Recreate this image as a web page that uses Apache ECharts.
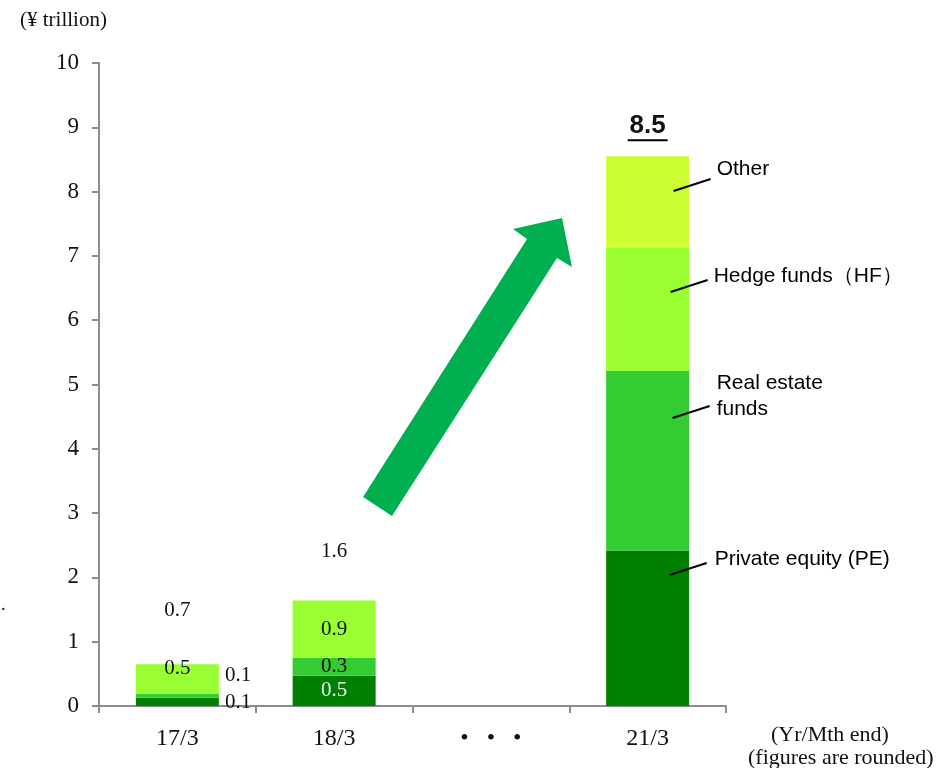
<!DOCTYPE html>
<html>
<head>
<meta charset="utf-8">
<script src="https://cdn.jsdelivr.net/npm/echarts@6/dist/echarts.min.js"></script>
<style>
html, body { margin: 0; padding: 0; background: #fff; }
#chart { width: 948px; height: 768px; }
</style>
</head>
<body>
<div id="chart"></div>
<script>
// categories and stacked segment values (¥ trillion)
var categories = ['17/3', '18/3', '•   •   •', '21/3'];
var peValues = [0.13, 0.47, null, 2.42];
var realEstateValues = [0.06, 0.28, null, 2.79];
var hedgeValues = [0.46, 0.89, null, 1.92];
var otherValues = [null, null, null, 1.42];

// printed figures
var peLabels = ['0.1', '0.5', '', ''];
var realEstateLabels = ['0.1', '0.3', '', ''];
var hedgeLabels = ['0.5', '0.9', '', ''];
var totalLabels = ['0.7', '1.6', '', '8.5'];

var yTicks = [0, 1, 2, 3, 4, 5, 6, 7, 8, 9, 10];

var SERIF = '"Liberation Serif", "DejaVu Serif", serif';
var SANS = '"Liberation Sans", Arial, sans-serif';

var colors = {
	pe: '#008000',
	realEstate: '#33cc33',
	hedge: '#99ff33',
	other: '#ccff33',
	arrow: '#00b050'
};

function segmentData(values, labels, labelOpts)
{
	return values.map(function(v, i)
	{
		var item = { value: v };
		if(labels[i])
		{
			item.label = Object.assign({
				show: true,
				formatter: labels[i],
				fontFamily: SERIF,
				fontSize: 21,
				color: '#111'
			}, labelOpts[i] || {});
		}
		return item;
	});
}

var peData = segmentData(peValues, peLabels, [
	{ position: 'right', distance: 6, offset: [0, 1] },
	{ position: 'inside', color: '#f0f0f0' }
]);
var realEstateData = segmentData(realEstateValues, realEstateLabels, [
	{ position: 'right', distance: 6, offset: [0, -20] },
	{ position: 'inside' }
]);
var hedgeData = segmentData(hedgeValues, hedgeLabels, [
	{ position: 'inside', offset: [0, -11] },
	{ position: 'inside' }
]);
var totalData = totalLabels.map(function(t, i)
{
	if(!t)
		return { value: null };
	var item = {
		value: 0,
		label: {
			show: true,
			position: 'top',
			formatter: t,
			fontFamily: SERIF,
			fontSize: 21,
			color: '#111'
		}
	};
	if(i == 0) item.label.distance = 43;
	if(i == 1) item.label.distance = 39;
	if(i == 3)
	{
		item.label.distance = 17;
		item.label.fontFamily = SANS;
		item.label.fontWeight = 'bold';
		item.label.fontSize = 26;
	}
	return item;
});

var chart = echarts.init(document.getElementById('chart'), null, { renderer: 'canvas' });

var barWidth = 83;

var option = {
	animation: false,
	backgroundColor: '#fff',
	grid: { left: 99, right: 222, top: 63, bottom: 62, containLabel: false },
	xAxis: {
		type: 'category',
		data: categories,
		boundaryGap: true,
		axisLine: { lineStyle: { color: '#8c8c8c', width: 2 } },
		axisTick: { show: true, interval: 0, length: 7, lineStyle: { color: '#8c8c8c', width: 2 } },
		axisLabel: { interval: 0, margin: 21, fontFamily: SERIF, fontSize: 24, color: '#111' }
	},
	yAxis: {
		type: 'value',
		min: yTicks[0],
		max: yTicks[yTicks.length - 1],
		interval: 1,
		splitLine: { show: false },
		axisLine: { show: true, lineStyle: { color: '#8c8c8c', width: 2 } },
		axisTick: { show: true, length: 7, lineStyle: { color: '#8c8c8c', width: 2 } },
		axisLabel: { margin: 20, fontFamily: SERIF, fontSize: 23, color: '#111' }
	},
	series: [
		{ name: 'Private equity (PE)', type: 'bar', stack: 'all', barWidth: barWidth, itemStyle: { color: colors.pe }, data: peData },
		{ name: 'Real estate funds', type: 'bar', stack: 'all', barWidth: barWidth, itemStyle: { color: colors.realEstate }, data: realEstateData },
		{ name: 'Hedge funds (HF)', type: 'bar', stack: 'all', barWidth: barWidth, itemStyle: { color: colors.hedge }, data: hedgeData },
		{ name: 'Other', type: 'bar', stack: 'all', barWidth: barWidth, itemStyle: { color: colors.other }, data: otherValues },
		{ name: 'Total', type: 'bar', stack: 'all', barWidth: barWidth, itemStyle: { color: 'rgba(0,0,0,0)' }, data: totalData, silent: true }
	]
};

chart.setOption(option);

// annotations placed relative to the 21/3 bar
var lastIdx = 3;
var total21 = peValues[lastIdx] + realEstateValues[lastIdx] + hedgeValues[lastIdx] + otherValues[lastIdx];
var topPt = chart.convertToPixel({ xAxisIndex: 0, yAxisIndex: 0 }, [lastIdx, total21]);
var cx = topPt[0];

function note(text, lx, ly, tx, ty)
{
	return [
		{
			type: 'line', z: 100,
			shape: { x1: lx, y1: ly, x2: lx + 37, y2: ly - 12 },
			style: { stroke: '#000', lineWidth: 2 }
		},
		{
			type: 'text', z: 100,
			left: tx, top: ty,
			style: { text: text, font: '21px ' + SANS, fill: '#000', lineHeight: 26 }
		}
	];
}

var graphics = [];
graphics.push({
	type: 'text', left: 20, top: 10,
	style: { text: '(¥ trillion)', font: '21px ' + SERIF, fill: '#111' }
});
graphics.push({
	type: 'text', left: 771, top: 724,
	style: { text: '(Yr/Mth end)', font: '22px ' + SERIF, fill: '#111' }
});
graphics.push({
	type: 'text', left: 748, top: 747,
	style: { text: '(figures are rounded)', font: '22px ' + SERIF, fill: '#111' }
});
graphics.push({
	type: 'text', left: 1, top: 596,
	style: { text: '.', font: '18px ' + SERIF, fill: '#111' }
});
// underline of the 8.5 total
graphics.push({
	type: 'line', z: 100,
	shape: { x1: cx - 20, y1: topPt[1] - 16, x2: cx + 20, y2: topPt[1] - 16 },
	style: { stroke: '#000', lineWidth: 2 }
});
graphics = graphics
	.concat(note('Other', cx + 26, 191, cx + 69, 156))
	.concat(note('Hedge funds（HF）', cx + 23, 292, cx + 66, 263))
	.concat(note('Real estate\nfunds', cx + 25, 418, cx + 69, 370))
	.concat(note('Private equity (PE)', cx + 22, 575, cx + 67, 546));

// growth arrow
graphics.push({
	type: 'polygon', z: 100,
	shape: {
		points: [[363, 497], [527, 239], [513, 229], [562, 218], [572, 267], [557, 258], [392, 516]]
	},
	style: { fill: colors.arrow }
});

chart.setOption({ graphic: graphics });
</script>
</body>
</html>
